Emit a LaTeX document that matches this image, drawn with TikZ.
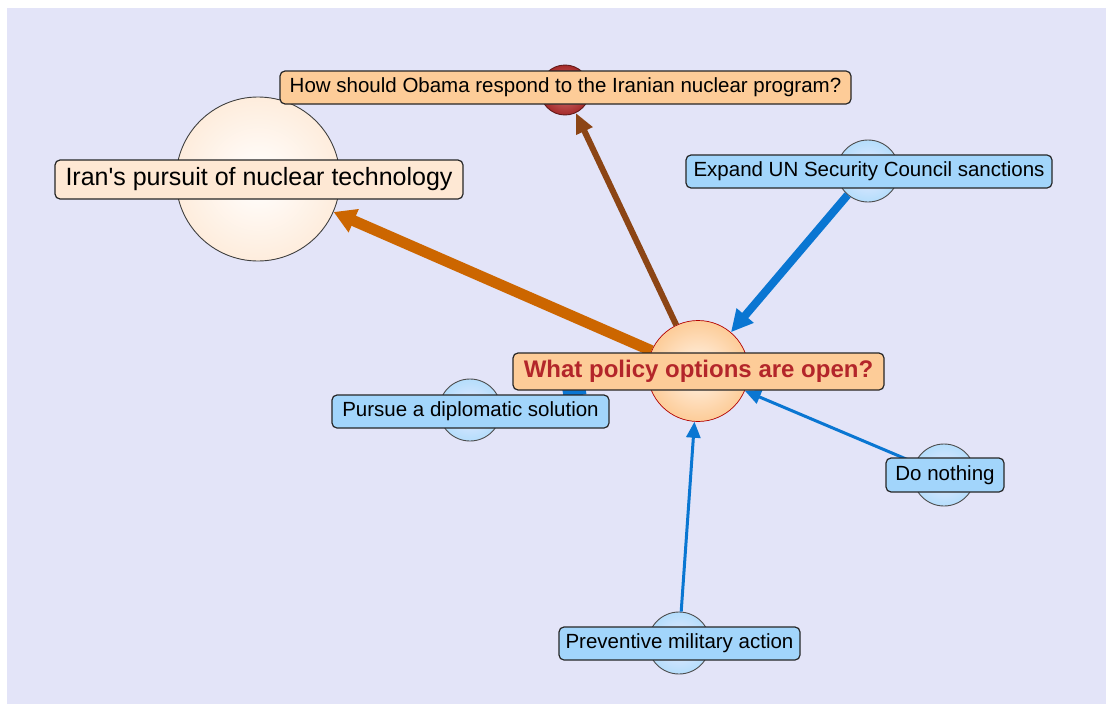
\documentclass[tikz,border=0pt]{standalone}
\usepackage{fontspec}
\setmainfont{Liberation Sans}
\usetikzlibrary{arrows.meta}

\definecolor{canvas}{HTML}{E3E4F8}
\definecolor{peachbox}{HTML}{FDCC98}
\definecolor{creambox}{HTML}{FEE8D4}
\definecolor{skybox}{HTML}{A2D5FB}
\definecolor{edgeorange}{HTML}{CC6600}
\definecolor{edgebrown}{HTML}{8C4515}
\definecolor{edgeblue}{HTML}{0A76D2}
\definecolor{titlered}{HTML}{B3262A}
\definecolor{rootlight}{HTML}{DA7C7C}
\definecolor{rootdark}{HTML}{A52A2A}

\tikzset{
  hub/.style={circle, inner sep=0pt, line width=0.9pt},
  bluehub/.style={hub, draw=black!70, inner color=blue!8!white, outer color=skybox!80!white, minimum size=#1},
  tag/.style={rounded corners=5pt, draw=black!85, line width=1.2pt, inner sep=0pt,
              font=\fontsize{20.5}{24}\selectfont, text=black},
  bluetag/.style={tag, fill=skybox},
  link/.style={line width=#1, line cap=butt},
  thinhead/.style={-{Triangle[length=16pt,width=14pt]}},
}

\begin{document}
\begin{tikzpicture}[x=1pt,y=-1pt]
  % page and canvas
  \fill[white] (0,0) rectangle (1106,704);
  \fill[canvas] (7,8) rectangle (1106,704);
  \useasboundingbox (0,0) rectangle (1106,704);

  % circles
  \node[hub, draw=rootdark!60!black, inner color=rootlight, outer color=rootdark, minimum size=50pt] (cq) at (565,90) {};
  \node[hub, draw=black!75, inner color=white, outer color=creambox!80!white, minimum size=164pt] (ci) at (258,179) {};
  \node[hub, draw=red!70!black, line width=0.7pt, inner color=orange!8!white, outer color=peachbox, minimum size=101pt] (cp) at (698,371) {};
  \node[bluehub=62pt] (cu) at (868,171) {};
  \node[bluehub=62pt] (cd) at (470,410) {};
  \node[bluehub=62pt] (cn) at (944,475) {};
  \node[bluehub=62pt] (cm) at (679,643) {};

  % connectors
  \draw[link=11pt, edgeorange, -{Triangle[length=22pt,width=24pt]}] (cp) -- (ci);
  \draw[link=6pt, edgebrown, -{Triangle[length=20pt,width=17pt]}] (cp) -- (cq);
  \draw[link=8pt, edgeblue, -{Triangle[length=22pt,width=21pt]}] (cu) -- (cp);
  \draw[link=8pt, edgeblue, shorten <=63pt, shorten >=63pt] (cd) -- (cp);
  \draw[link=3pt, edgeblue, thinhead] (cn) -- (cp);
  \draw[link=3pt, edgeblue, thinhead] (cm) -- (cp);

  % labels
  \node[tag, fill=peachbox, minimum width=571pt, minimum height=33pt] (tq) at (565.5,87.5)
    {How should Obama respond to the Iranian nuclear program?};
  \node[tag, fill=creambox, minimum width=408pt, minimum height=39pt, font=\fontsize{25}{29}\selectfont] (ti) at (259,179.5)
    {Iran\textquotesingle s pursuit of nuclear technology};
  \node[tag, fill=peachbox, minimum width=371pt, minimum height=37pt, font=\fontsize{24}{28}\selectfont\bfseries, text=titlered] (tp) at (698.5,371.5)
    {What policy options are open?};
  \node[bluetag, minimum width=366pt, minimum height=33pt] (tu) at (869,171.5)
    {Expand UN Security Council sanctions};
  \node[bluetag, minimum width=277pt, minimum height=33pt] (td) at (470.5,411.5)
    {Pursue a diplomatic solution};
  \node[bluetag, minimum width=118pt, minimum height=34pt] (tn) at (945,475)
    {Do nothing};
  \node[bluetag, minimum width=241pt, minimum height=33pt] (tm) at (679.5,643.5)
    {Preventive military action};
\end{tikzpicture}
\end{document}
